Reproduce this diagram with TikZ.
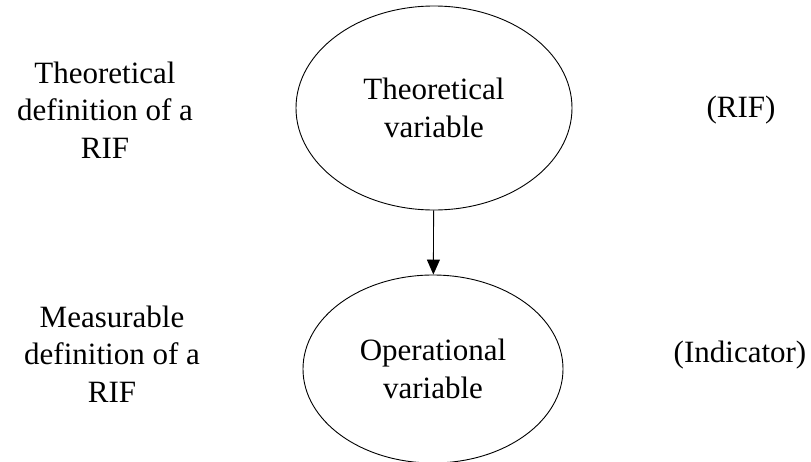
\documentclass[tikz,border=0pt]{standalone}
\usepackage{fontspec}
\setmainfont{Liberation Serif}
\usetikzlibrary{shapes.geometric,arrows.meta}
\begin{document}
\begin{tikzpicture}[x=1pt,y=-1pt,
  every node/.style={font=\fontsize{31}{37.5}\selectfont, align=center, inner sep=0pt},
  varbox/.style={ellipse, draw, line width=0.9pt},
  link/.style={draw, line width=0.9pt, -{Triangle[width=13pt,length=15pt]}}]
  \useasboundingbox (0,0) rectangle (811,461);
  % latent and observed variables
  \node[varbox, minimum width=276pt, minimum height=204pt] (theo) at (434,108) {Theoretical\\variable};
  \node[varbox, minimum width=260pt, minimum height=188pt] (oper) at (433,369) {Operational\\variable};
  \draw[link] (theo) -- (oper);
  % side annotations
  \node (ldefT) at (105,110) {Theoretical\\definition of a\\RIF};
  \node (ldefM) at (112,354) {Measurable\\definition of a\\RIF};
  \node (rif) at (741,110) {(RIF)};
  \node (ind) at (740,355) {(Indicator)};
\end{tikzpicture}
\end{document}
